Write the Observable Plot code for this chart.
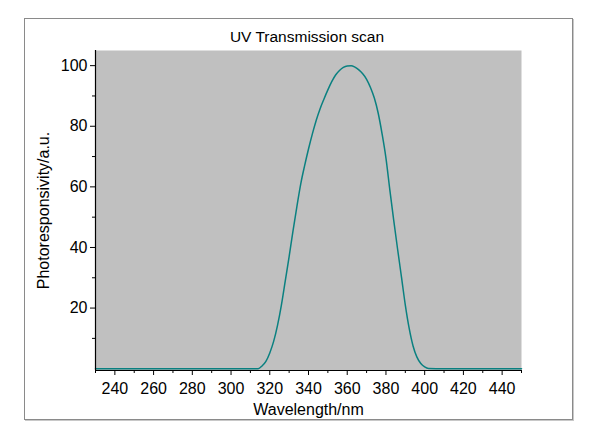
<!DOCTYPE html>
<html><head><meta charset="utf-8">
<script src="https://cdn.jsdelivr.net/npm/d3@7"></script>
<script src="https://cdn.jsdelivr.net/npm/@observablehq/plot@0.6"></script>
<style>
body{margin:0;background:#fff;}
#wrap{position:relative;width:591px;height:445px;overflow:hidden;}
#box{position:absolute;left:24px;top:18px;width:547px;height:400px;border:1px solid #8a8a8a;box-shadow:1px 1px 0 #c8c8c8;}
#chart{position:absolute;left:0;top:0;}
#title{position:absolute;left:0;width:614px;top:28px;text-align:center;font:15.5px "Liberation Sans",Arial,sans-serif;color:#000;}
</style></head>
<body><div id="wrap"><div id="box"></div><div id="chart"></div><div id="title">UV Transmission scan</div></div>
<script>
const wavelength = [230,240,250,260,270,280,290,300,310,312,314,316,318,320,322,324,326,328,330,332,334,336,338,340,342,344,346,348,350,352,354,356,358,360,362,364,366,368,370,372,374,376,378,380,382,384,386,388,390,392,394,396,398,400,402,410,420,430,440,450];
const response   = [0,0,0,0,0,0,0,0,0,0,0,0.9,2.4,5.2,9.0,14.3,21,29,37,45.5,53.5,61,67,72.5,77.5,82,85.8,89,92,94.7,96.9,98.4,99.4,99.9,100,99.5,98.6,97.3,95.5,92.8,89.3,84.3,77.5,69.5,59,49,39.5,30.3,21,13.3,7.5,3.8,1.7,0.6,0.1,0,0,0,0,0];
const xDomain = [230,450];
const yDomain = [-0.6,105];
const xTicks = [240,260,280,300,320,340,360,380,400,420,440];
const xMinor = [230,250,270,290,310,330,350,370,390,410,430,450];
const yTicks = [20,40,60,80,100];
const yMinor = [10,30,50,70,90];

const data = wavelength.map((w,i)=>({w, r: response[i]}));
const font = '"Liberation Sans",Arial,sans-serif';

const chart = Plot.plot({
  width: 591, height: 445,
  marginLeft: 95, marginRight: 70, marginTop: 50, marginBottom: 75,
  style: {fontFamily: font, fontSize: "12.5px", background: "transparent", color: "#000"},
  x: {domain: xDomain},
  y: {domain: yDomain},
  marks: [
    Plot.frame({fill: "#c0c0c0", stroke: null}),
    Plot.line(data, {x: "w", y: "r", stroke: "#0a8080", strokeWidth: 1.5, curve: "monotone-x"}),
    Plot.ruleX([xDomain[0]], {stroke: "#000", strokeWidth: 1.2}),
    Plot.ruleY([yDomain[0]], {stroke: "#000", strokeWidth: 1.2}),
    Plot.axisX(xTicks, {tickSize: 5, tickPadding: 7, tickFormat: d => String(d), label: "Wavelength/nm", labelAnchor: "center", labelArrow: "none", labelOffset: 44, fontSize: 12.5}),
    Plot.axisX(xMinor, {tickSize: 3, tickFormat: () => "", label: null}),
    Plot.axisY(yTicks, {tickSize: 5, tickPadding: 3, tickFormat: d => String(d), label: "Photoresponsivity/a.u.", labelAnchor: "center", labelArrow: "none", labelOffset: 58, fontSize: 12.5}),
    Plot.axisY(yMinor, {tickSize: 3, tickFormat: () => "", label: null})
  ]
});
document.getElementById("chart").appendChild(chart);
d3.select(chart).selectAll("[aria-label$='label'] text").style("font-size", "16px");
</script>
</body></html>
